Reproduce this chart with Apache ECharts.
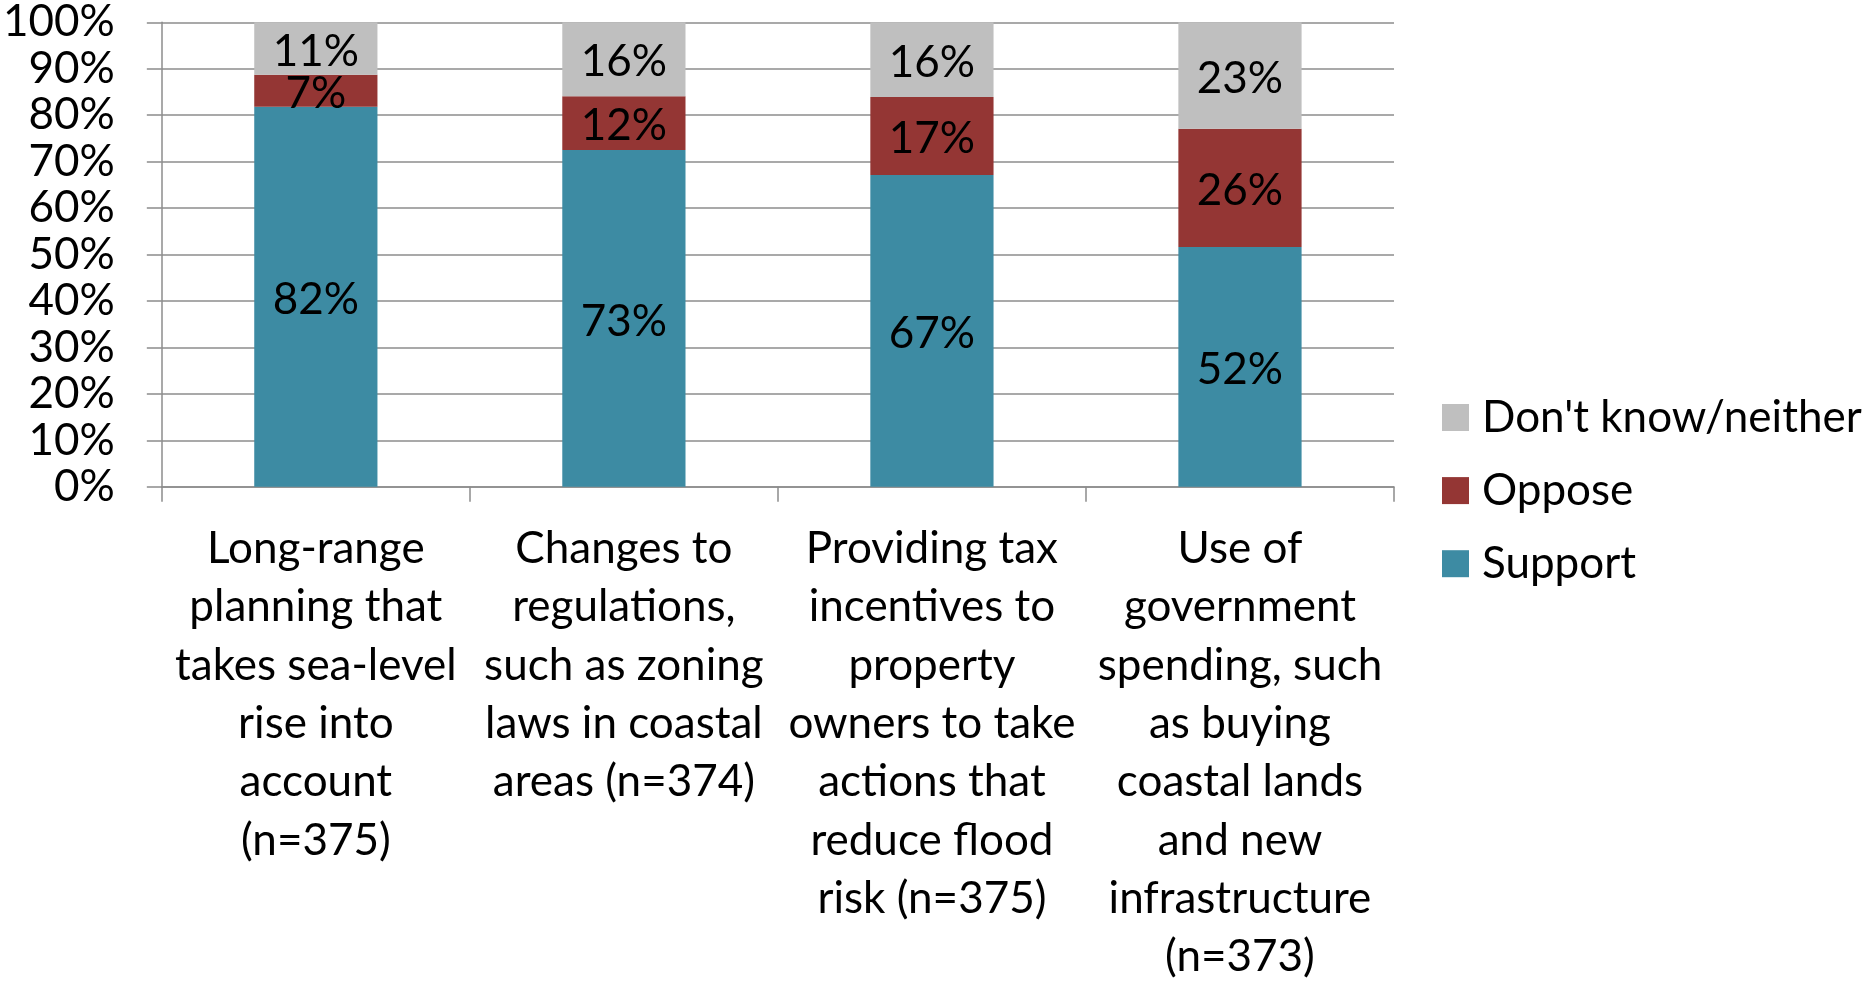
<!DOCTYPE html>
<html>
<head>
<meta charset="utf-8">
<script src="https://cdn.jsdelivr.net/npm/echarts@6/dist/echarts.min.js"></script>
<style>
html,body{margin:0;padding:0;background:#fff;}
#chart{width:1865px;height:987px;}
</style>
</head>
<body>
<div id="chart"></div>
<script>
const categories = [
  "Long-range\nplanning that\ntakes sea-level\nrise into\naccount\n(n=375)",
  "Changes to\nregulations,\nsuch as zoning\nlaws in coastal\nareas (n=374)",
  "Providing tax\nincentives to\nproperty\nowners to take\nactions that\nreduce flood\nrisk (n=375)",
  "Use of\ngovernment\nspending, such\nas buying\ncoastal lands\nand new\ninfrastructure\n(n=373)"
];
const support = [81.8, 72.5, 67.1, 51.6];
const oppose = [6.9, 11.6, 16.8, 25.5];
const dontKnow = [11.3, 15.9, 16.1, 22.9];
const seriesNames = ["Support", "Oppose", "Don't know/neither"];
const yTicks = [0, 10, 20, 30, 40, 50, 60, 70, 80, 90, 100];

const FONT = 'Lato';
const chart = echarts.init(document.getElementById('chart'));
const labelCfg = {
  show: true,
  position: 'inside',
  offset: [0, 3],
  color: '#000',
  fontFamily: FONT,
  fontSize: 44,
  formatter: p => Math.round(p.value) + '%'
};
function mk(name, data, color) {
  return {
    name: name, type: 'bar', stack: 'total', data: data,
    barWidth: '40%',
    itemStyle: { color: color },
    label: labelCfg,
    emphasis: { disabled: true }
  };
}
chart.setOption({
  animation: false,
  textStyle: { fontFamily: FONT },
  grid: { left: 160, right: 471, top: 22.3, bottom: 500.2, containLabel: false },
  legend: {
    orient: 'vertical',
    left: 1442,
    top: 395.5,
    padding: 0,
    itemWidth: 27,
    itemHeight: 27,
    itemGap: 29.1,
    icon: 'rect',
    data: [seriesNames[2], seriesNames[1], seriesNames[0]],
    textStyle: { fontFamily: FONT, fontSize: 44, color: '#000', lineHeight: 40, padding: [0, 0, 0, 8] },
    selectedMode: false
  },
  xAxis: {
    type: 'category',
    data: categories,
    axisLine: { show: true, lineStyle: { color: '#8c8c8c', width: 1.5 } },
    axisTick: { show: true, length: 15, alignWithLabel: false, lineStyle: { color: '#8c8c8c', width: 1.5 } },
    axisLabel: { interval: 0, color: '#000', fontFamily: FONT, fontSize: 44, lineHeight: 58.3, margin: 33, align: 'center', verticalAlign: 'top' }
  },
  yAxis: {
    type: 'value',
    min: yTicks[0],
    max: yTicks[yTicks.length - 1],
    interval: 10,
    axisLine: { show: true, lineStyle: { color: '#8c8c8c', width: 1.5 } },
    axisTick: { show: true, length: 15, lineStyle: { color: '#8c8c8c', width: 1.5 } },
    splitLine: { show: true, lineStyle: { color: '#8c8c8c', width: 1.5 } },
    axisLabel: { color: '#000', fontFamily: FONT, fontSize: 44, margin: 47, formatter: '{value}%' }
  },
  series: [
    mk(seriesNames[0], support, '#3D8BA3'),
    mk(seriesNames[1], oppose, '#943634'),
    mk(seriesNames[2], dontKnow, '#BFBFBF')
  ]
});
</script>
</body>
</html>
